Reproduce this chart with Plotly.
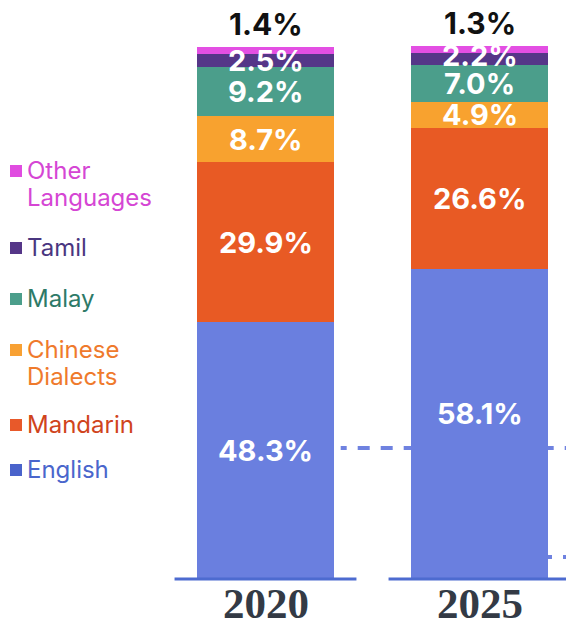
import plotly.graph_objects as go

# ---------------- data ----------------
years = ["2020", "2025"]
languages = ["English", "Mandarin", "Chinese Dialects", "Malay", "Tamil", "Other Languages"]
english = [48.3, 58.1]
mandarin = [29.9, 26.6]
chinese_dialects = [8.7, 4.9]
malay = [9.2, 7.0]
tamil = [2.5, 2.2]
other_languages = [1.4, 1.3]
series = [english, mandarin, chinese_dialects, malay, tamil, other_languages]
legend_labels = ["Other<br>Languages", "Tamil", "Malay", "Chinese<br>Dialects", "Mandarin", "English"]

# ---------------- styles ----------------
W, H = 566, 621
bar_colors = ["#6a7fdf", "#e85a24", "#f8a22f", "#4b9e8b", "#553688", "#e34fe3"]
legend_sq_colors = {"English": "#4a63cb", "Mandarin": "#e8592a", "Chinese Dialects": "#f8a133",
                    "Malay": "#4b9e8b", "Tamil": "#553688", "Other Languages": "#e04ce0"}
legend_txt_colors = {"English": "#4a66cc", "Mandarin": "#d0441c", "Chinese Dialects": "#ef7a2c",
                     "Malay": "#2d7a68", "Tamil": "#4a3680", "Other Languages": "#d546d4"}
legend_order = ["Other Languages", "Tamil", "Malay", "Chinese Dialects", "Mandarin", "English"]
legend_sq_y = [171, 248, 299, 350, 425, 470]  # pixel centres of legend squares
legend_line_gap = 27                            # pixel gap between wrapped legend lines
label_yshift = {(1, "English"): 10, (1, "Tamil"): 3}  # small label nudges (pixels)

# axis geometry (pixels -> data)
px_per_unit_x = 214.0
x0_px = 265.5
px_per_pct = 5.32
base_px = 578.5
x_range = [-x0_px / px_per_unit_x, 1 + (W - (x0_px + px_per_unit_x)) / px_per_unit_x]
y_range = [-(H - base_px) / px_per_pct, base_px / px_per_pct]

LABEL_FONT = "Inter, Roboto, sans-serif"

fig = go.Figure()
for name, vals, col in zip(languages, series, bar_colors):
    fig.add_trace(go.Bar(
        x=years, y=vals, name=name, width=0.64,
        marker=dict(color=col, line=dict(width=0)),
        showlegend=False, hoverinfo="skip",
    ))

annotations = []
shapes = []

# value labels
for i, yr in enumerate(years):
    cum = 0.0
    for k, (name, vals) in enumerate(zip(languages, series)):
        v = vals[i]
        if name == "Other Languages":
            annotations.append(dict(
                x=i, y=cum + v, xref="x", yref="y", text=f"<b>{v:.1f}%</b>", showarrow=False,
                yshift=23, yanchor="middle",
                font=dict(family=LABEL_FONT, size=30, color="#111111")))
        else:
            annotations.append(dict(
                x=i, y=cum + v / 2, xref="x", yref="y", text=f"<b>{v:.1f}%</b>", showarrow=False,
                yanchor="middle", yshift=label_yshift.get((i, name), 0),
                font=dict(family=LABEL_FONT, size=29, color="#ffffff")))
        cum += v
    # year labels
    annotations.append(dict(
        x=i, y=-(603 - base_px) / px_per_pct, xref="x", yref="y", text=f"<b>{yr}</b>", showarrow=False,
        yanchor="middle",
        font=dict(family="Liberation Serif, DejaVu Serif, serif", size=43, color="#333a45")))
    # baseline segment under each bar
    shapes.append(dict(type="line", xref="x", yref="y", x0=i - 0.425, x1=i + 0.425,
                       y0=-(579 - base_px) / px_per_pct, y1=-(579 - base_px) / px_per_pct,
                       line=dict(color="#4d6bd0", width=3), layer="above"))

# decorative dashed reference lines (behind bars)
dash_pat = "6px,11px," + ",".join(["12px,11px"] * 12)
shapes.append(dict(type="line", xref="x", yref="y",
                   x0=(340.7 - x0_px) / px_per_unit_x, x1=x_range[1] + 0.1,
                   y0=(base_px - 448) / px_per_pct, y1=(base_px - 448) / px_per_pct,
                   line=dict(color="#6f82e0", width=4, dash=dash_pat), layer="below"))
shapes.append(dict(type="line", xref="x", yref="y",
                   x0=(448 - x0_px) / px_per_unit_x, x1=x_range[1] + 0.1,
                   y0=(base_px - 557) / px_per_pct, y1=(base_px - 557) / px_per_pct,
                   line=dict(color="#6f82e0", width=4, dash="12px,11px"), layer="below"))

# legend (manual)
for name, lab, sy in zip(legend_order, legend_labels, legend_sq_y):
    shapes.append(dict(type="rect", xref="paper", yref="paper",
                       x0=10 / W, x1=22 / W, y0=1 - (sy + 6) / H, y1=1 - (sy - 6) / H,
                       fillcolor=legend_sq_colors[name], line=dict(width=0)))
    for j, line_txt in enumerate(lab.split("<br>")):
        cy = sy - 1 + j * legend_line_gap
        annotations.append(dict(
            x=25 / W, y=1 - cy / H, xref="paper", yref="paper", text=line_txt, showarrow=False,
            xanchor="left", yanchor="middle", align="left",
            font=dict(family="Inter, Roboto, sans-serif", size=24, color=legend_txt_colors[name])))

fig.update_layout(
    width=W, height=H,
    margin=dict(l=0, r=0, t=0, b=0),
    paper_bgcolor="white", plot_bgcolor="white",
    barmode="stack", bargap=0,
    xaxis=dict(type="category", range=x_range, visible=False, fixedrange=True),
    yaxis=dict(range=y_range, visible=False, fixedrange=True),
    annotations=annotations, shapes=shapes,
    showlegend=False,
)

fig.write_html("out.html", config={"displayModeBar": False},
               post_script="document.body.style.margin='0px';")
